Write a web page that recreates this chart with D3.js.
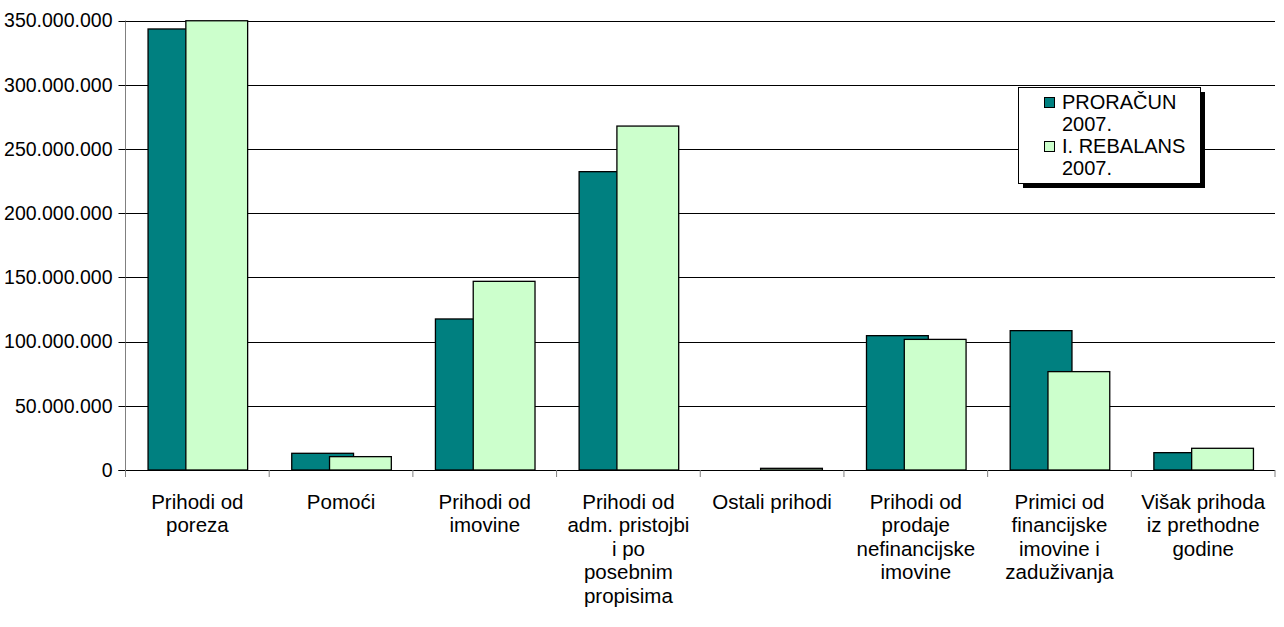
<html>
<head>
<script src="https://d3js.org/d3.v7.min.js"></script>
<style>
  body { margin: 0; background: #fff; }
  text { font-family: Arial, "Liberation Sans", sans-serif; fill: #000; }
</style>
</head>
<body>
<svg id="chart" width="1284" height="627"></svg>
<script>
// categories, each as the lines of its wrapped label
const categories = [
  ["Prihodi od", "poreza"],
  ["Pomoći"],
  ["Prihodi od", "imovine"],
  ["Prihodi od", "adm. pristojbi", "i po", "posebnim", "propisima"],
  ["Ostali prihodi"],
  ["Prihodi od", "prodaje", "nefinancijske", "imovine"],
  ["Primici od", "financijske", "imovine i", "zaduživanja"],
  ["Višak prihoda", "iz prethodne", "godine"]
];
const proracun = [343400000, 13000000, 117600000, 232300000, 0, 104600000, 108500000, 13500000];
const rebalans = [349800000, 10400000, 146900000, 267800000, 1300000, 101700000, 76600000, 16900000];
const seriesNames = [["PRORAČUN", "2007."], ["I. REBALANS", "2007."]];
const seriesColors = ["#008080", "#CCFFCC"];
const yTicks = [0, 50000000, 100000000, 150000000, 200000000, 250000000, 300000000, 350000000];

const svg = d3.select("#chart");
const mLeft = 125.5, mRight = 1275, mTop = 20.5, mBottom = 470;

const x = d3.scaleBand().domain(d3.range(categories.length)).range([mLeft, mRight]);
const y = d3.scaleLinear().domain([0, 350000000]).range([mBottom, mTop]);
const bw = x.bandwidth();

const loc = d3.formatLocale({decimal: ",", thousands: ".", grouping: [3], currency: ["", ""]});
const fmt = loc.format(",");

// horizontal gridlines
svg.append("g").selectAll("line").data(yTicks.slice(1)).join("line")
  .attr("x1", mLeft).attr("x2", mRight)
  .attr("y1", d => Math.round(y(d)) + 0.5).attr("y2", d => Math.round(y(d)) + 0.5)
  .attr("stroke", "#000").attr("stroke-width", 1);

// bars
const series = [proracun, rebalans];
const offsets = [0.157, 0.42];
series.forEach((vals, s) => {
  svg.append("g").selectAll("rect").data(vals).join("rect")
    .attr("x", (d, i) => x(i) + bw * offsets[s])
    .attr("width", bw * 0.43)
    .attr("y", d => y(d))
    .attr("height", d => mBottom - y(d))
    .attr("fill", seriesColors[s])
    .attr("stroke", "#000")
    .attr("stroke-width", d => d > 0 ? 1.3 : 0);
});

// y axis
svg.append("line").attr("x1", mLeft).attr("x2", mLeft).attr("y1", mTop).attr("y2", mBottom)
  .attr("stroke", "#808080");
const yg = svg.append("g");
yg.selectAll("line").data(yTicks).join("line")
  .attr("x1", mLeft - 7).attr("x2", mLeft)
  .attr("y1", d => Math.round(y(d)) + 0.5).attr("y2", d => Math.round(y(d)) + 0.5)
  .attr("stroke", "#000");
yg.selectAll("text").data(yTicks).join("text")
  .attr("x", mLeft - 13).attr("y", d => y(d))
  .attr("dy", "0.35em").attr("text-anchor", "end")
  .style("font-size", "19.5px")
  .text(d => fmt(d));

// x axis
svg.append("line").attr("x1", mLeft - 7).attr("x2", mRight).attr("y1", mBottom + 0.5).attr("y2", mBottom + 0.5)
  .attr("stroke", "#000");
svg.append("g").selectAll("line").data(d3.range(categories.length + 1)).join("line")
  .attr("x1", i => (i < categories.length ? x(i) : mRight))
  .attr("x2", i => (i < categories.length ? x(i) : mRight))
  .attr("y1", mBottom).attr("y2", mBottom + 7)
  .attr("stroke", "#808080");
const labels = svg.append("g").selectAll("text").data(categories).join("text")
  .attr("text-anchor", "middle")
  .style("font-size", "20.5px");
labels.each(function(lines, i) {
  d3.select(this).selectAll("tspan").data(lines).join("tspan")
    .attr("x", x(i) + bw / 2)
    .attr("y", (d, j) => 509 + j * 23.4)
    .text(d => d);
});

// legend
const lg = svg.append("g").attr("transform", "translate(1018,87)");
lg.append("rect").attr("x", 5).attr("y", 5).attr("width", 182).attr("height", 96).attr("fill", "#000");
lg.append("rect").attr("x", 0.5).attr("y", 0.5).attr("width", 182).attr("height", 96)
  .attr("fill", "#fff").attr("stroke", "#000");
seriesNames.forEach((lines, s) => {
  const gy = 10 + s * 44;
  lg.append("rect").attr("x", 26.5).attr("y", gy + 0.5).attr("width", 10).attr("height", 10)
    .attr("fill", seriesColors[s]).attr("stroke", "#000");
  lines.forEach((t, j) => {
    lg.append("text").attr("x", 44).attr("y", gy + 12 + j * 21.5)
      .style("font-size", "20px").text(t);
  });
});
</script>
</body>
</html>
